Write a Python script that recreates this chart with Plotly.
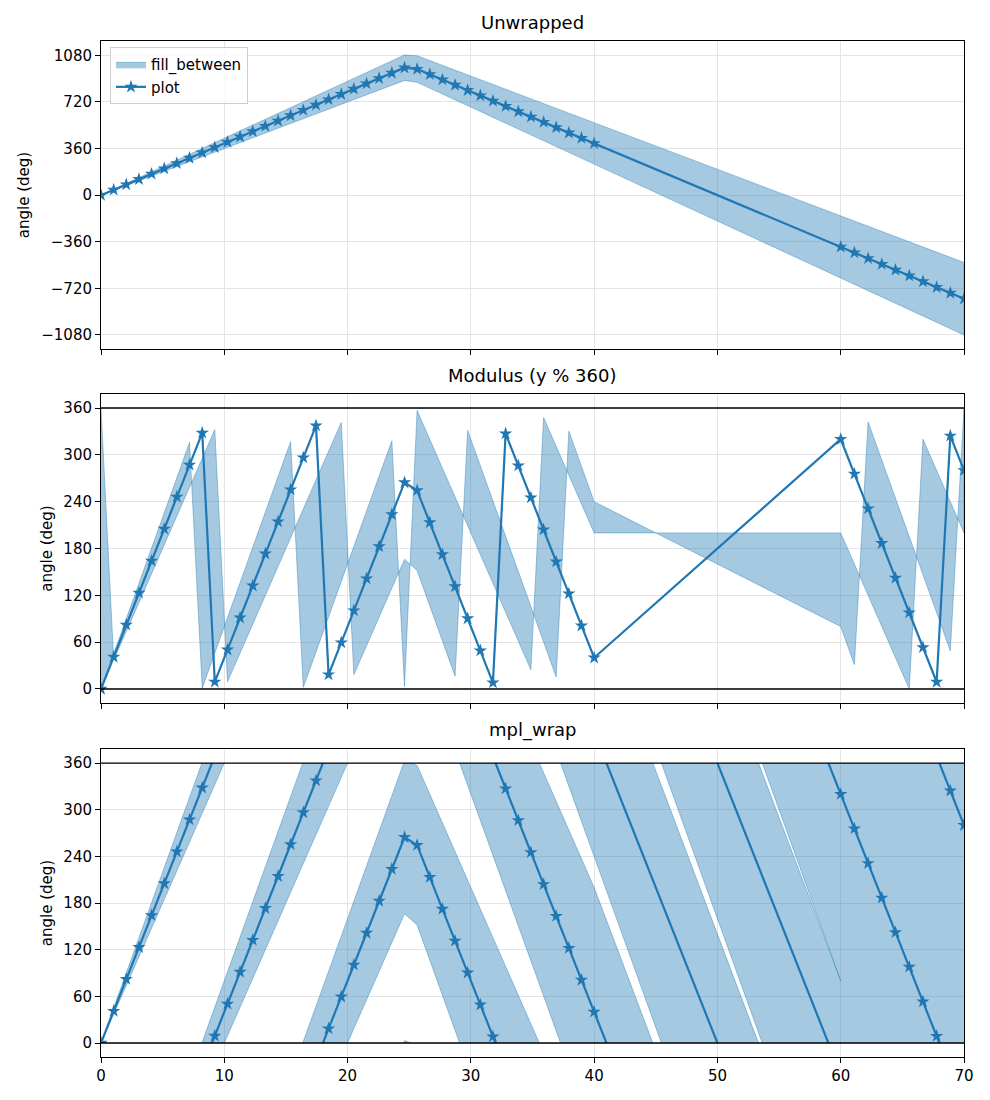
import numpy as np
import plotly.graph_objects as go

# ---------------- data ----------------
x = [0.0, 1.03, 2.05, 3.08, 4.10, 5.13, 6.15, 7.18, 8.21, 9.23,
     10.26, 11.28, 12.31, 13.33, 14.36, 15.38, 16.41, 17.44, 18.46, 19.49,
     20.51, 21.54, 22.56, 23.59, 24.62, 25.64, 26.67, 27.69, 28.72, 29.74,
     30.77, 31.79, 32.82, 33.85, 34.87, 35.90, 36.92, 37.95, 38.97, 40.0,
     60.0, 61.11, 62.22, 63.33, 64.44, 65.56, 66.67, 67.78, 68.89, 70.0]
angle = [0.0, 41.0, 82.1, 123.1, 164.1, 205.1, 246.2, 287.2, 328.2, 369.2,
         410.3, 451.3, 492.3, 533.3, 574.4, 615.4, 656.4, 697.4, 738.5, 779.5,
         820.5, 861.5, 902.6, 943.6, 984.6, 974.4, 933.3, 892.3, 851.3, 810.3,
         769.2, 728.2, 687.2, 646.2, 605.1, 564.1, 523.1, 482.1, 441.0, 400.0,
         -400.0, -444.4, -488.9, -533.3, -577.8, -622.2, -666.7, -711.1, -755.6, -800.0]
lower = [-0.01, 36.9, 73.8, 110.8, 147.7, 184.6, 221.5, 258.5, 295.4, 332.3,
         369.2, 406.2, 443.1, 480.0, 516.9, 553.8, 590.8, 627.7, 664.6, 701.5,
         738.5, 775.4, 812.3, 849.2, 886.2, 871.8, 826.7, 781.5, 736.4, 691.3,
         646.2, 601.0, 555.9, 510.8, 465.6, 420.5, 375.4, 330.3, 285.1, 240.0,
         -640.0, -688.9, -737.8, -786.7, -835.6, -884.4, -933.3, -982.2, -1031.1, -1080.01]
upper = [0.0, 45.1, 90.3, 135.4, 180.5, 225.6, 270.8, 315.9, 361.0, 406.2,
         451.3, 496.4, 541.5, 586.7, 631.8, 676.9, 722.1, 767.2, 812.3, 857.4,
         902.6, 947.7, 992.8, 1037.9, 1083.1, 1076.9, 1040.0, 1003.1, 966.2, 929.2,
         892.3, 855.4, 818.5, 781.5, 744.6, 707.7, 670.8, 633.8, 596.9, 560.0,
         -160.0, -200.0, -240.0, -280.0, -320.0, -360.0, -400.0, -440.0, -480.0, -520.0]

period = 360
titles = ["Unwrapped", "Modulus (y % 360)", "mpl_wrap"]
x_ticks = [0, 10, 20, 30, 40, 50, 60, 70]
y1_ticks = [-1080, -720, -360, 0, 360, 720, 1080]
y1_labels = ["\u22121080", "\u2212720", "\u2212360", "0", "360", "720", "1080"]
y2_ticks = [0, 60, 120, 180, 240, 300, 360]

# ---------------- styles ----------------
C0 = "#1f77b4"
FILL = "rgba(31,119,180,0.4)"
FONT = "DejaVu Sans"
FS = 15
LW = 2.2
MARK = dict(symbol="star", size=10, color=C0, line=dict(width=0))

xa = np.array(x)
ya = np.array(angle)
lo = np.array(lower)
hi = np.array(upper)
poly_x = np.concatenate([xa, xa[::-1]])

fig = go.Figure()

# ---- panel 1: unwrapped ----
fig.add_trace(go.Scatter(x=poly_x, y=np.concatenate([lo, hi[::-1]]), fill="toself",
                         fillcolor=FILL, mode="lines", line=dict(color=FILL, width=1),
                         name="fill_between", xaxis="x", yaxis="y", hoverinfo="skip"))
fig.add_trace(go.Scatter(x=xa, y=ya, mode="lines+markers", line=dict(color=C0, width=LW),
                         marker=MARK, name="plot", xaxis="x", yaxis="y"))

# ---- panel 2: modulus ----
lo_m = np.mod(lo, period)
hi_m = np.mod(hi, period)
y_m = np.mod(ya, period)
fig.add_trace(go.Scatter(x=poly_x, y=np.concatenate([lo_m, hi_m[::-1]]), fill="toself",
                         fillcolor=FILL, mode="lines", line=dict(color=FILL, width=1),
                         showlegend=False, xaxis="x2", yaxis="y2", hoverinfo="skip"))
fig.add_trace(go.Scatter(x=xa, y=y_m, mode="lines+markers", line=dict(color=C0, width=LW),
                         marker=MARK, showlegend=False, xaxis="x2", yaxis="y2"))

# ---- panel 3: wrapped copies, clipped to [0, 360] by an inner axis ----
hi_c = np.minimum(hi, lo + period)
ks = range(int(np.floor(lo.min() / period)), int(np.ceil(hi_c.max() / period)) + 1)
fx, fy = [], []
for k in ks:
    fx += list(poly_x) + [None]
    fy += list(np.concatenate([lo - period * k, (hi_c - period * k)[::-1]])) + [None]
fig.add_trace(go.Scatter(x=fx, y=fy, fill="toself", fillcolor=FILL, mode="lines",
                         line=dict(color=FILL, width=0), showlegend=False,
                         xaxis="x3", yaxis="y4", hoverinfo="skip"))

open_seg = (hi_c - lo) < period - 1e-6
keep = open_seg | np.concatenate([[False], open_seg[:-1]])
ex, ey = [], []
for k in ks:
    for edge in (lo, hi_c):
        vals = edge - period * k
        ex += list(xa) + [None]
        ey += [float(v) if kp else None for v, kp in zip(vals, keep)] + [None]
fig.add_trace(go.Scatter(x=ex, y=ey, mode="lines", line=dict(color=FILL, width=1),
                         showlegend=False, xaxis="x3", yaxis="y4", hoverinfo="skip",
                         connectgaps=False))

lx, ly = [], []
for k in ks:
    lx += list(xa) + [None]
    ly += list(ya - period * k) + [None]
fig.add_trace(go.Scatter(x=lx, y=ly, mode="lines", line=dict(color=C0, width=LW),
                         showlegend=False, xaxis="x3", yaxis="y4", connectgaps=False))
fig.add_trace(go.Scatter(x=xa, y=y_m, mode="markers", marker=MARK,
                         showlegend=False, xaxis="x3", yaxis="y4"))

# ---------------- layout ----------------
common = dict(showline=True, linecolor="black", linewidth=1, mirror=True,
              ticks="outside", ticklen=5, tickwidth=1, tickcolor="black",
              showgrid=True, gridcolor="#e4e4e4", gridwidth=1, zeroline=False,
              tickfont=dict(family=FONT, size=FS, color="black"))

d1 = [0.6969, 1.0]
d2 = [0.3484, 0.6526]
d3 = [0.0, 0.3031]
r2 = [-18, 378]
inner = [d3[0] + (d3[1] - d3[0]) * (0 - r2[0]) / (r2[1] - r2[0]),
         d3[0] + (d3[1] - d3[0]) * (360 - r2[0]) / (r2[1] - r2[0])]

xcommon = dict(common, range=[0, 70], tickvals=x_ticks)
ytitle = dict(text="angle (deg)", font=dict(family=FONT, size=FS, color="black"), standoff=7)

fig.update_layout(
    width=990, height=1100,
    margin=dict(l=93, r=34, t=33, b=51),
    paper_bgcolor="white", plot_bgcolor="rgba(0,0,0,0)",
    font=dict(family=FONT, size=FS, color="black"),
    xaxis=dict(xcommon, domain=[0, 1], anchor="y", showticklabels=False),
    yaxis=dict(common, domain=d1, anchor="x", range=[-1188, 1191],
               tickvals=y1_ticks, ticktext=y1_labels, title=ytitle),
    xaxis2=dict(xcommon, domain=[0, 1], anchor="y2", showticklabels=False),
    yaxis2=dict(common, domain=d2, anchor="x2", range=r2, tickvals=y2_ticks, title=ytitle),
    xaxis3=dict(xcommon, domain=[0, 1], anchor="y3"),
    yaxis3=dict(common, domain=d3, anchor="x3", range=r2, tickvals=y2_ticks, title=ytitle),
    yaxis4=dict(domain=inner, anchor="x3", range=[0, 360], visible=False,
                showgrid=False, zeroline=False),
    legend=dict(x=0.0104, y=0.994, xanchor="left", yanchor="top",
                bgcolor="rgba(255,255,255,0.8)", bordercolor="#cccccc", borderwidth=1,
                font=dict(family=FONT, size=FS, color="black"), tracegroupgap=2),
    showlegend=True,
)

for xr, yr in [("x2", "y2"), ("x3", "y3")]:
    for yv in (0, 360):
        fig.add_shape(type="line", xref=f"{xr} domain", yref=yr, x0=0, x1=1, y0=yv, y1=yv,
                      line=dict(color="black", width=1.3), layer="above")

for (xr, yr), t in zip([("x", "y"), ("x2", "y2"), ("x3", "y3")], titles):
    fig.add_annotation(text=t, xref=f"{xr} domain", yref=f"{yr} domain", x=0.5, y=1,
                       xanchor="center", yanchor="bottom", yshift=6, showarrow=False,
                       font=dict(family=FONT, size=18, color="black"))

fig.write_html("out.html")
